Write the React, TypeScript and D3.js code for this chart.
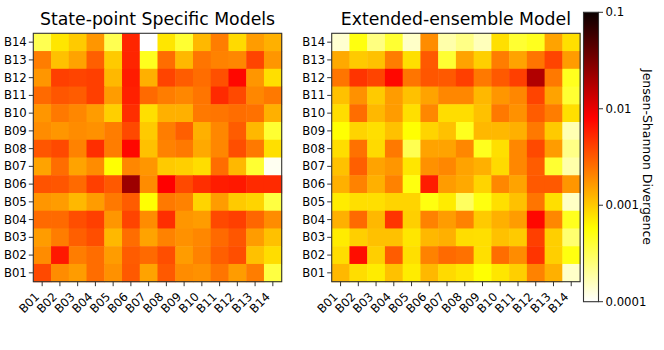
import React from 'react';
import * as d3 from 'd3';

const labels = ['B01', 'B02', 'B03', 'B04', 'B05', 'B06', 'B07', 'B08', 'B09', 'B10', 'B11', 'B12', 'B13', 'B14'];
// rows listed top to bottom: B14 ... B01
const rowLabels = [...labels].reverse();

const statePoint: number[][] = [
  [0.00033, 0.00075, 0.001, 0.0017, 0.00033, 0.0055, 0.0001, 0.00075, 0.00041, 0.0012, 0.0022, 0.00085, 0.0016, 0.0013],
  [0.0022, 0.0011, 0.0015, 0.003, 0.001, 0.0055, 0.00047, 0.0026, 0.0012, 0.0024, 0.0021, 0.002, 0.004, 0.0017],
  [0.0017, 0.0042, 0.004, 0.0042, 0.0012, 0.006, 0.0013, 0.004, 0.0031, 0.0026, 0.0035, 0.0075, 0.0017, 0.0008],
  [0.0027, 0.0033, 0.0031, 0.0042, 0.0016, 0.0058, 0.0027, 0.0022, 0.002, 0.0024, 0.0052, 0.0038, 0.002, 0.0023],
  [0.0017, 0.0023, 0.002, 0.0016, 0.00095, 0.005, 0.0008, 0.0013, 0.0013, 0.0023, 0.0024, 0.0026, 0.0025, 0.0013],
  [0.0019, 0.0017, 0.0019, 0.0018, 0.0022, 0.0038, 0.001, 0.0022, 0.003, 0.0013, 0.002, 0.0031, 0.0012, 0.00041],
  [0.0033, 0.0038, 0.0021, 0.005, 0.0022, 0.0075, 0.0011, 0.0021, 0.0023, 0.0014, 0.002, 0.0036, 0.0023, 0.0008],
  [0.0015, 0.0026, 0.0015, 0.0019, 0.00057, 0.002, 0.0017, 0.001, 0.00095, 0.00082, 0.0026, 0.0012, 0.00041, 0.00011],
  [0.0034, 0.0033, 0.0027, 0.0042, 0.0032, 0.022, 0.0019, 0.008, 0.0038, 0.005, 0.006, 0.0063, 0.0052, 0.0052],
  [0.0017, 0.0016, 0.0012, 0.0016, 0.0023, 0.0031, 0.00057, 0.0023, 0.0021, 0.0009, 0.0016, 0.001, 0.0009, 0.00037],
  [0.0027, 0.0027, 0.0036, 0.0042, 0.0017, 0.004, 0.0019, 0.005, 0.0017, 0.0016, 0.0038, 0.0042, 0.0028, 0.0019],
  [0.0016, 0.0022, 0.003, 0.0036, 0.0012, 0.0026, 0.0015, 0.0021, 0.0018, 0.002, 0.0027, 0.0033, 0.0016, 0.0011],
  [0.0019, 0.0063, 0.0022, 0.0026, 0.0016, 0.0031, 0.0027, 0.0036, 0.0016, 0.0021, 0.003, 0.0036, 0.0011, 0.00082],
  [0.0038, 0.0019, 0.0016, 0.0026, 0.0018, 0.0032, 0.0015, 0.0032, 0.0019, 0.0018, 0.0024, 0.0016, 0.0022, 0.00037],
];

const extended: number[][] = [
  [0.000138, 0.00052, 0.00024, 0.00041, 0.000146, 0.0019, 0.00018, 0.00023, 0.00016, 0.0008, 0.00041, 0.00047, 0.0015, 0.0008],
  [0.0014, 0.001, 0.0011, 0.0022, 0.0008, 0.0032, 0.00041, 0.0015, 0.00095, 0.0022, 0.0015, 0.0024, 0.004, 0.0016],
  [0.0024, 0.0047, 0.004, 0.0075, 0.0024, 0.0033, 0.0032, 0.0042, 0.0023, 0.0032, 0.0042, 0.018, 0.0023, 0.00047],
  [0.0011, 0.0018, 0.001, 0.0016, 0.0011, 0.0015, 0.002, 0.002, 0.0012, 0.0017, 0.002, 0.004, 0.0015, 0.00041],
  [0.00082, 0.0026, 0.0012, 0.0016, 0.0008, 0.002, 0.00082, 0.00082, 0.0011, 0.0023, 0.0018, 0.0031, 0.0022, 0.0008],
  [0.00057, 0.0009, 0.0008, 0.0011, 0.00057, 0.0009, 0.0011, 0.00047, 0.0012, 0.0012, 0.0013, 0.0023, 0.001, 0.00017],
  [0.00082, 0.0025, 0.00085, 0.0023, 0.00033, 0.0015, 0.0015, 0.002, 0.00047, 0.0008, 0.002, 0.0038, 0.0016, 0.00023],
  [0.0011, 0.003, 0.0015, 0.0017, 0.00075, 0.0018, 0.002, 0.0015, 0.0013, 0.00085, 0.002, 0.0031, 0.00041, 0.00018],
  [0.0013, 0.0021, 0.0013, 0.0021, 0.00052, 0.006, 0.0016, 0.0014, 0.0009, 0.002, 0.0015, 0.0032, 0.0032, 0.0017],
  [0.0007, 0.0008, 0.0008, 0.0009, 0.0009, 0.00052, 0.0007, 0.0003, 0.00052, 0.0008, 0.0011, 0.0024, 0.0008, 0.00015],
  [0.0013, 0.0027, 0.0012, 0.0047, 0.00095, 0.0021, 0.0016, 0.0021, 0.001, 0.0013, 0.0016, 0.0075, 0.002, 0.00047],
  [0.0007, 0.00095, 0.0011, 0.0011, 0.00075, 0.0012, 0.0013, 0.00082, 0.0008, 0.0011, 0.001, 0.0042, 0.00095, 0.00027],
  [0.00082, 0.007, 0.00095, 0.0031, 0.0008, 0.0021, 0.0027, 0.0025, 0.0008, 0.0026, 0.0019, 0.0047, 0.00095, 0.00052],
  [0.0012, 0.00082, 0.0007, 0.0011, 0.0007, 0.0012, 0.00085, 0.00075, 0.00057, 0.00075, 0.00095, 0.0021, 0.0013, 0.000146],
];

const titles = ['State-point Specific Models', 'Extended-ensemble Model'];
const cbTicks = [0.1, 0.01, 0.001, 0.0001];
const cbTickLabels = ['0.1', '0.01', '0.001', '0.0001'];
const cbLabel = 'Jensen-Shannon Divergence';

const FONT = 'DejaVu Sans, sans-serif';
const TICK_FS = 11.7;

// matplotlib "hot" colormap, reversed
function hotR(t: number): string {
  const x = 1 - Math.max(0, Math.min(1, t));
  const a = 0.365079, b = 0.746032;
  const r = x < a ? 0.0416 + (1 - 0.0416) * (x / a) : 1;
  const g = x < a ? 0 : x < b ? (x - a) / (b - a) : 1;
  const bl = x < b ? 0 : (x - b) / (1 - b);
  return d3.rgb(r * 255, g * 255, bl * 255).formatHex();
}

const norm = d3.scaleLog().domain([1e-4, 1e-1]).range([0, 1]).clamp(true);
const color = (v: number) => hotR(norm(v));

const TOP = 33.3;
const SIZE = 248.4;

function Heatmap({ data, title, x0 }: { data: number[][]; title: string; x0: number }) {
  const x = d3.scaleBand<string>().domain(labels).range([x0, x0 + SIZE]).padding(0);
  const y = d3.scaleBand<string>().domain(rowLabels).range([TOP, TOP + SIZE]).padding(0);
  const bw = x.bandwidth();
  const bh = y.bandwidth();
  return (
    <g>
      <text x={x0 + SIZE / 2} y={25} textAnchor="middle" fontSize={17.3} fontFamily={FONT} fill="#000">{title}</text>
      {data.map((row, i) =>
        row.map((v, j) => (
          <rect key={`${i}-${j}`} x={x(labels[j])!} y={y(rowLabels[i])!} width={bw + 0.5} height={bh + 0.5} fill={color(v)} />
        ))
      )}
      <rect x={x0} y={TOP} width={SIZE} height={SIZE} fill="none" stroke="#333" strokeWidth={1.1} />
      {rowLabels.map((l) => {
        const yy = y(l)! + bh / 2;
        return (
          <g key={l}>
            <line x1={x0 - 4.5} x2={x0} y1={yy} y2={yy} stroke="#333" strokeWidth={1} />
            <text x={x0 - 6.5} y={yy} dy="0.35em" textAnchor="end" fontSize={TICK_FS} fontFamily={FONT} fill="#000">{l}</text>
          </g>
        );
      })}
      {labels.map((l) => {
        const xx = x(l)! + bw / 2;
        const yb = TOP + SIZE;
        return (
          <g key={l}>
            <line x1={xx} x2={xx} y1={yb} y2={yb + 4.5} stroke="#333" strokeWidth={1} />
            <text transform={`translate(${xx - 5},${yb + 13}) rotate(-45)`} dy="0.35em" textAnchor="end" fontSize={TICK_FS} fontFamily={FONT} fill="#000">{l}</text>
          </g>
        );
      })}
    </g>
  );
}

function Colorbar() {
  const cx = 583.5, cw = 15, cTop = 12.3, cBot = 301.7;
  const yScale = d3.scaleLog().domain([1e-4, 1e-1]).range([cBot, cTop]);
  const stops = d3.range(0, 101).map((i) => i / 100);
  return (
    <g>
      <defs>
        <linearGradient id="cbgrad" x1="0" y1="1" x2="0" y2="0">
          {stops.map((s) => (
            <stop key={s} offset={s} stopColor={hotR(s)} />
          ))}
        </linearGradient>
      </defs>
      <rect x={cx} y={cTop} width={cw} height={cBot - cTop} fill="url(#cbgrad)" stroke="#333" strokeWidth={1.1} />
      {cbTicks.map((t, i) => {
        const yy = yScale(t);
        return (
          <g key={t}>
            <line x1={cx + cw} x2={cx + cw + 4.5} y1={yy} y2={yy} stroke="#333" strokeWidth={1} />
            <text x={cx + cw + 7} y={yy} dy="0.35em" fontSize={TICK_FS} fontFamily={FONT} fill="#000">{cbTickLabels[i]}</text>
          </g>
        );
      })}
      <text transform={`translate(643,${(cTop + cBot) / 2}) rotate(90)`} textAnchor="middle" fontSize={12.5} fontFamily={FONT} fill="#000">{cbLabel}</text>
    </g>
  );
}

export default function App() {
  return (
    <svg width={664} height={350} style={{ position: 'absolute', left: 0, top: 0, background: '#fff' }}>
      <rect width={664} height={350} fill="#fff" />
      <Heatmap data={statePoint} title={titles[0]} x0={33.3} />
      <Heatmap data={extended} title={titles[1]} x0={331.7} />
      <Colorbar />
    </svg>
  );
}
